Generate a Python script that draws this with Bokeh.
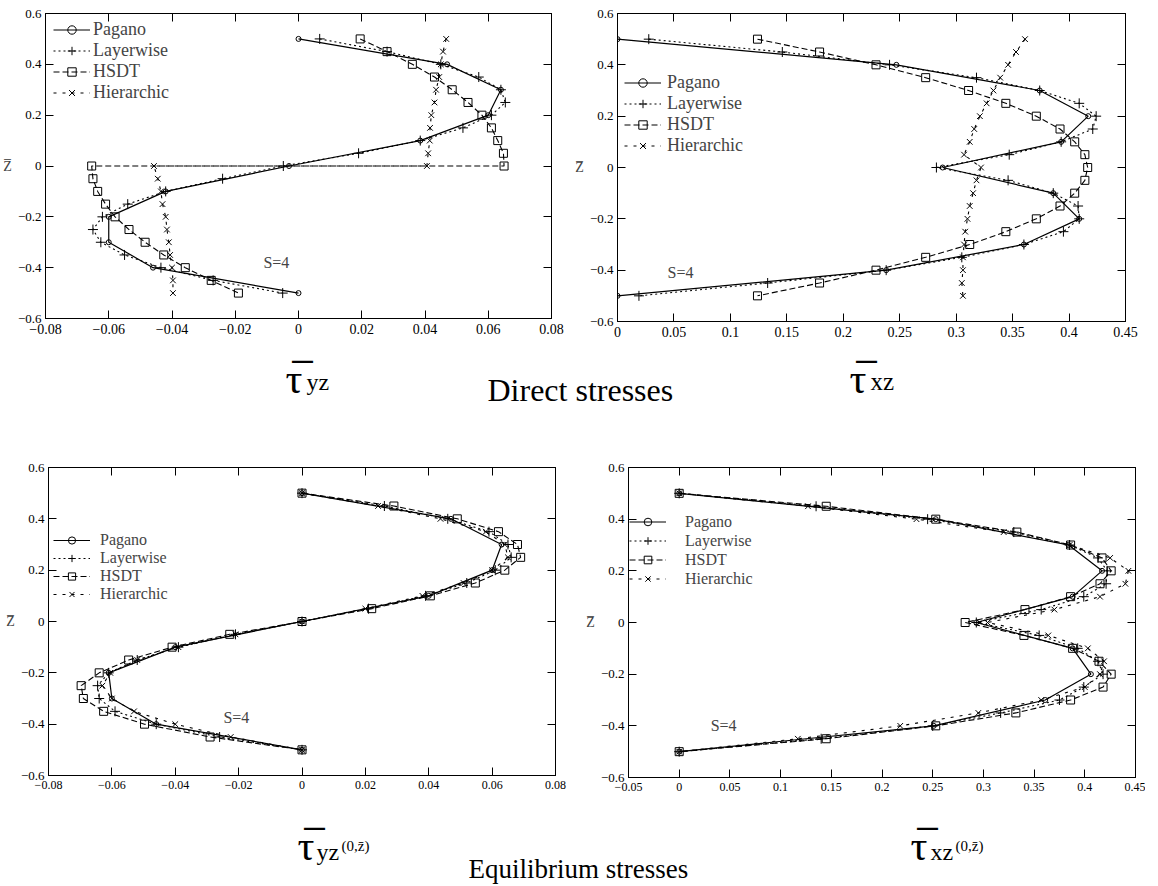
from bokeh.plotting import figure
from bokeh.models import Range1d, FixedTicker, LinearAxis, Label, Legend, LegendItem
from bokeh.layouts import row, column
from bokeh.embed import file_html
from bokeh.resources import INLINE

SERIF = "Liberation Serif"

# ---------------- data ----------------
z21 = [0.5, 0.45, 0.4, 0.35, 0.3, 0.25, 0.2, 0.15, 0.1, 0.05, 0.0,
       -0.05, -0.1, -0.15, -0.2, -0.25, -0.3, -0.35, -0.4, -0.45, -0.5]
z11 = [0.5, 0.4, 0.3, 0.2, 0.1, 0.0, -0.1, -0.2, -0.3, -0.4, -0.5]
z22 = [0.5, 0.45, 0.4, 0.35, 0.3, 0.25, 0.2, 0.15, 0.1, 0.05, 0.0,
       0.0, -0.05, -0.1, -0.15, -0.2, -0.25, -0.3, -0.35, -0.4, -0.45, -0.5]

# Direct stresses, tau_yz
pagano_yz = [0.0, 0.047, 0.064, 0.060, 0.0385, -0.003, -0.042, -0.060, -0.060, -0.046, 0.0]
layer_yz = [0.0067, 0.028, 0.045, 0.057, 0.064, 0.0654, 0.061, 0.052, 0.0385, 0.019, -0.0048,
            -0.024, -0.042, -0.054, -0.062, -0.065, -0.0625, -0.055, -0.0435, -0.027, -0.005]
hsdt_yz = [0.0195, 0.028, 0.036, 0.043, 0.0486, 0.0536, 0.058, 0.061, 0.063, 0.0648, 0.065,
           -0.0654, -0.065, -0.0635, -0.061, -0.058, -0.0536, -0.0485, -0.0426, -0.0358, -0.0276, -0.019]
hier_yz = [0.0467, 0.0457, 0.045, 0.0445, 0.0435, 0.043, 0.042, 0.0416, 0.0415, 0.041, 0.0406,
           -0.0457, -0.0445, -0.0435, -0.043, -0.042, -0.0416, -0.041, -0.0406, -0.040, -0.0397, -0.0397]

# Direct stresses, tau_xz
pagano_xz = [0.0, 0.247, 0.374, 0.417, 0.393, 0.288, 0.386, 0.409, 0.360, 0.238, 0.0]
layer_xz = [0.0277, 0.146, 0.241, 0.318, 0.374, 0.409, 0.424, 0.421, 0.393, 0.347, 0.2825,
            0.346, 0.386, 0.408, 0.409, 0.395, 0.360, 0.305, 0.238, 0.133, 0.019]
hsdt_xz = [0.124, 0.179, 0.229, 0.273, 0.311, 0.344, 0.371, 0.392, 0.405, 0.414, 0.4165,
           0.414, 0.405, 0.392, 0.371, 0.344, 0.312, 0.273, 0.229, 0.179, 0.124]
hier_xz = [0.361, 0.353, 0.346, 0.339, 0.333, 0.327, 0.321, 0.316, 0.312, 0.307, 0.322,
           0.318, 0.315, 0.312, 0.310, 0.308, 0.307, 0.306, 0.306, 0.305, 0.306]

# Equilibrium stresses, tau_yz(0,z)
pagano_eyz = [0.0, 0.047, 0.063, 0.060, 0.040, 0.0, -0.040, -0.061, -0.060, -0.046, 0.0]
layer_eyz = [0.0, 0.026, 0.046, 0.059, 0.065, 0.066, 0.061, 0.052, 0.039, 0.021, 0.0,
             -0.021, -0.039, -0.052, -0.061, -0.0645, -0.064, -0.059, -0.046, -0.026, 0.0]
hsdt_eyz = [0.0, 0.029, 0.049, 0.062, 0.068, 0.069, 0.064, 0.0547, 0.0405, 0.022, 0.0,
            -0.0228, -0.041, -0.0547, -0.064, -0.0697, -0.069, -0.0626, -0.0497, -0.029, 0.0]
hier_eyz = [0.0, 0.024, 0.0437, 0.058, 0.064, 0.065, 0.060, 0.051, 0.038, 0.020, 0.0,
            -0.021, -0.039, -0.052, -0.0605, -0.063, -0.060, -0.053, -0.040, -0.0225, 0.0]

# Equilibrium stresses, tau_xz(0,z)
pagano_exz = [0.0, 0.253, 0.384, 0.417, 0.388, 0.293, 0.388, 0.406, 0.361, 0.251, 0.0]
layer_exz = [0.0, 0.135, 0.245, 0.330, 0.385, 0.413, 0.422, 0.421, 0.399, 0.357, 0.293,
             0.355, 0.393, 0.413, 0.418, 0.399, 0.375, 0.317, 0.250, 0.140, 0.0]
hsdt_exz = [0.0, 0.145, 0.253, 0.333, 0.386, 0.417, 0.426, 0.415, 0.386, 0.341, 0.282,
            0.340, 0.388, 0.414, 0.426, 0.418, 0.386, 0.332, 0.253, 0.145, 0.0]
hier_exz = [0.0, 0.127, 0.234, 0.320, 0.385, 0.425, 0.443, 0.440, 0.415, 0.370, 0.304,
            0.364, 0.403, 0.419, 0.415, 0.400, 0.357, 0.295, 0.218, 0.117, 0.0]

series_names = ["Pagano", "Layerwise", "HSDT", "Hierarchic"]

# tick values and labels
xt_yz = [-0.08, -0.06, -0.04, -0.02, 0.0, 0.02, 0.04, 0.06, 0.08]
xl_yz = ["\u22120.08", "\u22120.06", "\u22120.04", "\u22120.02", "0", "0.02", "0.04", "0.06", "0.08"]
xt_xz = [0.0, 0.05, 0.1, 0.15, 0.2, 0.25, 0.3, 0.35, 0.4, 0.45]
xl_xz = ["0", "0.05", "0.1", "0.15", "0.2", "0.25", "0.3", "0.35", "0.4", "0.45"]
xt_exz = [-0.05, 0.0, 0.05, 0.1, 0.15, 0.2, 0.25, 0.3, 0.35, 0.4, 0.45]
xl_exz = ["\u22120.05", "0", "0.05", "0.1", "0.15", "0.2", "0.25", "0.3", "0.35", "0.4", "0.45"]
yt = [-0.6, -0.4, -0.2, 0.0, 0.2, 0.4, 0.6]
yl = ["\u22120.6", "\u22120.4", "\u22120.2", "0", "0.2", "0.4", "0.6"]

# ---------------- styles ----------------
STY = {
    "Pagano": dict(dash="solid", marker="circle", size=5, lw=1.2),
    "Layerwise": dict(dash="2 3", marker="cross", size=10, lw=1.1),
    "HSDT": dict(dash="6 3", marker="square", size=8, lw=1.1),
    "Hierarchic": dict(dash="3 6", marker="x", size=8, lw=1.1),
}


def panel(xr, xt, xl, data, fw, fh, borders, legend_xy, leg_font, leg_gh, leg_standoff,
          s_xy, tick_font):
    bl, br, bt, bb = borders
    p = figure(frame_width=fw, frame_height=fh, x_range=Range1d(*xr), y_range=Range1d(-0.6, 0.6),
               output_backend="svg", toolbar_location=None,
               min_border_left=bl, min_border_right=br, min_border_top=bt, min_border_bottom=bb)
    p.grid.visible = False
    p.outline_line_color = "black"
    p.outline_line_width = 1
    p.background_fill_color = "white"

    for ax, ticks, labels in ((p.xaxis[0], xt, xl), (p.yaxis[0], yt, yl)):
        ax.ticker = FixedTicker(ticks=ticks)
        ax.major_label_overrides = {t: l for t, l in zip(ticks, labels)}
        ax.major_tick_in = 8
        ax.major_tick_out = 0
        ax.minor_tick_line_color = None
        ax.axis_line_color = "black"
        ax.major_tick_line_color = "black"
        ax.major_label_text_font = SERIF
        ax.major_label_text_color = "black"
    p.xaxis.major_label_text_font_size = tick_font
    p.xaxis.major_label_standoff = 5
    p.yaxis.major_label_text_font_size = "13px"
    p.yaxis.major_label_standoff = 4
    p.yaxis.axis_label = "Z\u0305"
    p.yaxis.axis_label_orientation = "horizontal"
    p.yaxis.axis_label_text_font = SERIF
    p.yaxis.axis_label_text_font_style = "normal"
    p.yaxis.axis_label_text_font_size = "14px"
    p.yaxis.axis_label_standoff = 3

    # mirrored inward ticks on top and right
    top = LinearAxis(ticker=FixedTicker(ticks=xt), major_tick_in=8, major_tick_out=0,
                     minor_tick_line_color=None, major_label_standoff=0,
                     major_label_text_font_size="1px",
                     major_label_overrides={t: "" for t in xt})
    right = LinearAxis(ticker=FixedTicker(ticks=yt), major_tick_in=8, major_tick_out=0,
                       minor_tick_line_color=None, major_label_standoff=0,
                       major_label_text_font_size="1px",
                       major_label_overrides={t: "" for t in yt})
    p.add_layout(top, "above")
    p.add_layout(right, "right")

    items = []
    for name in series_names:
        xs, zs = data[name]
        st = STY[name]
        rl = p.line(xs, zs, line_color="black", line_width=st["lw"], line_dash=st["dash"])
        rs = p.scatter(xs, zs, marker=st["marker"], size=st["size"], line_color="black",
                       fill_color=None, line_width=1)
        items.append(LegendItem(label=name, renderers=[rl, rs]))
    leg = Legend(items=items, location=legend_xy, orientation="vertical", padding=0, margin=0,
                 spacing=0, glyph_width=37, glyph_height=leg_gh, label_height=leg_gh,
                 label_standoff=leg_standoff, label_text_font=SERIF,
                 label_text_font_size=leg_font, border_line_color=None,
                 background_fill_alpha=0)
    p.add_layout(leg)
    p.add_layout(Label(x=s_xy[0], y=s_xy[1], text="S=4", text_font=SERIF,
                       text_font_size="16px", text_baseline="middle", text_align="left"))
    return p


# page has no margin (Bokeh template): window coords == page coords
p1 = panel((-0.08, 0.08), xt_yz, xl_yz,
           {"Pagano": (pagano_yz, z11), "Layerwise": (layer_yz, z21),
            "HSDT": (hsdt_yz, z22), "Hierarchic": (hier_yz, z22)},
           506, 305, (40, 18, 12, 27), (8, 215), "18px", 21, 3, (-0.0111, -0.38), "14px")
p2 = panel((0.0, 0.45), xt_xz, xl_xz,
           {"Pagano": (pagano_xz, z11), "Layerwise": (layer_xz, z21),
            "HSDT": (hsdt_xz, z21), "Hierarchic": (hier_xz, z21)},
           508, 308, (48, 20, 13, 23), (7, 165), "18px", 21, 6, (0.0444, -0.41), "14px")
p3 = panel((-0.08, 0.08), xt_yz, xl_yz,
           {"Pagano": (pagano_eyz, z11), "Layerwise": (layer_eyz, z21),
            "HSDT": (hsdt_eyz, z21), "Hierarchic": (hier_eyz, z21)},
           507, 308, (48, 25, 57, 25), (5, 172), "16px", 18, 10, (-0.0248, -0.374), "12px")
p4 = panel((-0.05, 0.45), xt_exz, xl_exz,
           {"Pagano": (pagano_exz, z11), "Layerwise": (layer_exz, z21),
            "HSDT": (hsdt_exz, z21), "Hierarchic": (hier_exz, z21)},
           507, 310, (48, 10, 57, 23), (1, 189), "16px", 19, 19, (0.031, -0.40), "12px")

W = 1150


def strip(h):
    s = figure(width=W, height=h, x_range=Range1d(0, W), y_range=Range1d(h, 0),
               output_backend="svg", toolbar_location=None, min_border=0,
               x_axis_location=None, y_axis_location=None, outline_line_color=None)
    s.grid.visible = False
    return s


def add_txt(s, x, y, text, size, baseline="alphabetic", style="normal"):
    s.add_layout(Label(x=x, y=y, text=text, text_font=SERIF, text_font_size=size,
                       text_baseline=baseline, text_align="left", text_font_style=style,
                       text_color="black"))


TAU_BAR = "\u03c4\u0305"   # tau with overline

# strip 1 spans window y 344..410
s1 = strip(66)
add_txt(s1, 285, 34, TAU_BAR, "42px")
add_txt(s1, 306, 37, "yz", "24px")
add_txt(s1, 487, 45, "Direct stresses", "32px")
add_txt(s1, 849, 34, TAU_BAR, "42px")
add_txt(s1, 870, 37, "xz", "25px")

# strip 2 spans window y 800..885
s2 = strip(85)
add_txt(s2, 297, 45, TAU_BAR, "42px")
add_txt(s2, 316, 51, "yz", "24px")
add_txt(s2, 341, 45, "(0,z\u0304)", "15px")
add_txt(s2, 468, 68, "Equilibrium stresses", "27px")
add_txt(s2, 910, 45, TAU_BAR, "42px")
add_txt(s2, 930, 51, "xz", "24px")
add_txt(s2, 955, 45, "(0,z\u0304)", "15px")

layout = column(row(p1, p2), s1, row(p3, p4), s2)

open("out.html", "w").write(file_html(layout, INLINE))
